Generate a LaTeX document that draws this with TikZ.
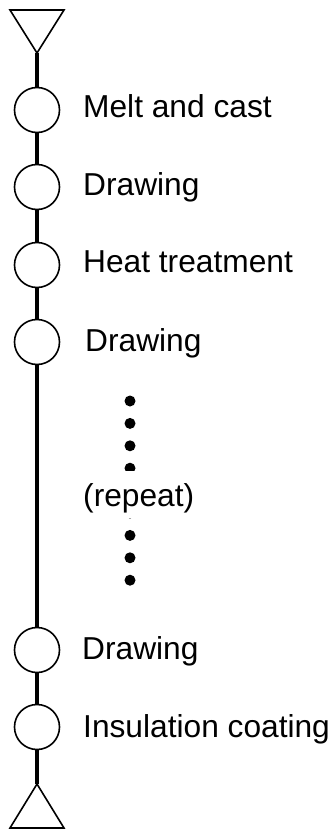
\documentclass[tikz,border=0pt]{standalone}
\usepackage{fontspec}
\setmainfont{Liberation Sans}
\begin{document}
\begin{tikzpicture}[x=1pt,y=-1pt,
  stepcirc/.style={circle,draw,line width=1.6pt,fill=white,minimum size=45pt,inner sep=0pt},
  flow/.style={line width=4.5pt},
  tri/.style={draw,line width=1.6pt,line join=miter},
  lbl/.style={anchor=base west,inner sep=0pt,font=\fontsize{31.7}{36}\selectfont},
  dot/.style={circle,fill=black,inner sep=0pt,minimum size=11pt}]
\useasboundingbox (0,0) rectangle (335,830);
% triangles
\coordinate (ts) at (37,53);
\coordinate (te) at (37,784);
\draw[tri] (10,10) -- (64,10) -- (ts) -- cycle;
\draw[tri] (te) -- (64,828) -- (10,828) -- cycle;
% steps
\node[stepcirc] (c1) at (37,110) {};
\node[stepcirc] (c2) at (37,187) {};
\node[stepcirc] (c3) at (37,265) {};
\node[stepcirc] (c4) at (37,342) {};
\node[stepcirc] (c5) at (37,650) {};
\node[stepcirc] (c6) at (37,727) {};
\draw[flow] (ts) -- (c1);
\draw[flow] (c1) -- (c2);
\draw[flow] (c2) -- (c3);
\draw[flow] (c3) -- (c4);
\draw[flow] (c4) -- (c5);
\draw[flow] (c5) -- (c6);
\draw[flow] (c6) -- (te);
% labels
\node[lbl] (l1) at (83,117) {Melt and cast};
\node[lbl] (l2) at (83,195) {Drawing};
\node[lbl] (l3) at (83,272) {Heat treatment};
\node[lbl] (l4) at (85,351) {Drawing};
\node[lbl] (l5) at (82,659) {Drawing};
\node[lbl] (l6) at (83,737) {Insulation coating};
% dots
\foreach \i in {0,...,8}{\node[dot] (d\i) at (130,{401+\i*22.4}) {};}
\fill[white] (83,470.7) rectangle (200,517.5);
\node[lbl] (rep) at (83,506.5) {(repeat)};
\end{tikzpicture}
\end{document}
